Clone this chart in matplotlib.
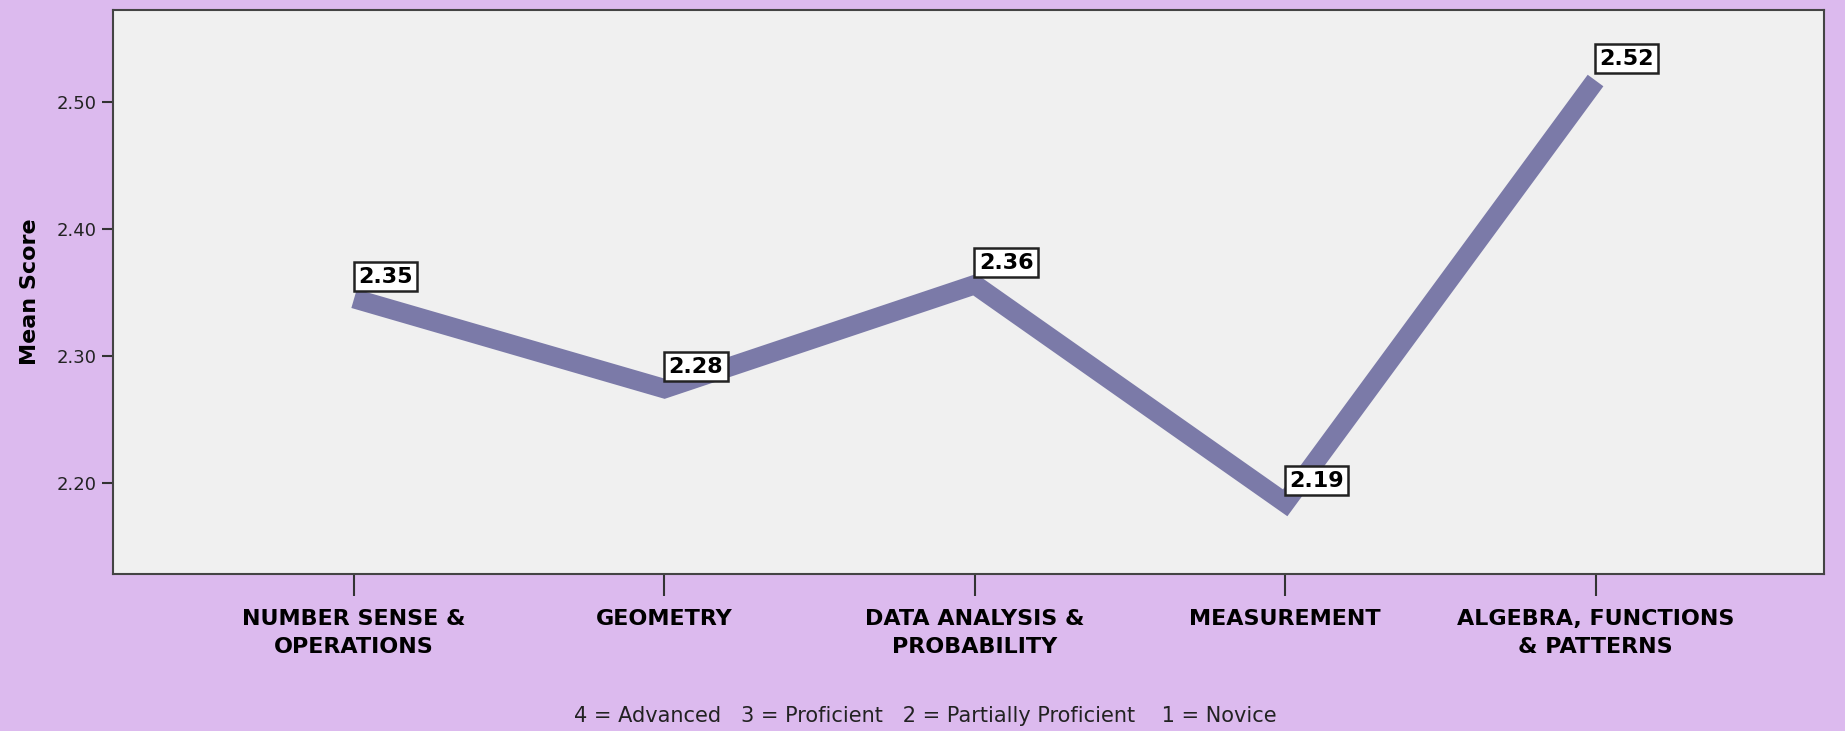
import matplotlib
matplotlib.use('Agg')
import matplotlib.pyplot as plt

# Data
strands = ['NUMBER SENSE &\nOPERATIONS', 'GEOMETRY', 'DATA ANALYSIS &\nPROBABILITY',
           'MEASUREMENT', 'ALGEBRA, FUNCTIONS\n& PATTERNS']
mean_scores = [2.345, 2.274, 2.356, 2.184, 2.517]
score_labels = ['2.35', '2.28', '2.36', '2.19', '2.52']
y_ticks = [2.20, 2.30, 2.40, 2.50]
footer = '4 = Advanced   3 = Proficient   2 = Partially Proficient    1 = Novice'

bg = '#dcbaee'
line_color = '#7b7aa8'
condensed = ['DejaVu Sans Condensed', 'DejaVu Sans']

fig = plt.figure(figsize=(18.45, 7.31), dpi=100, facecolor=bg)
ax = fig.add_axes([0.0612, 0.215, 0.9274, 0.772])
ax.set_facecolor('#f0f0f0')

x = list(range(len(strands)))
ax.plot(x, mean_scores, color=line_color, linewidth=14, solid_capstyle='butt',
        solid_joinstyle='miter')

# value boxes sit just above each point
for xi, yi, lab in zip(x, mean_scores, score_labels):
    ax.annotate(lab, (xi, yi), xytext=(4, 12), textcoords='offset pixels',
                ha='left', va='bottom', fontsize=16, fontweight='heavy', color='black',
                family=condensed,
                bbox=dict(boxstyle='square,pad=0.2', facecolor='white',
                          edgecolor='#222222', linewidth=1.8))

ax.set_xlim(-0.777, 4.736)
ax.set_ylim(2.128, 2.573)
ax.set_xticks(x)
ax.set_xticklabels(strands, fontsize=16, fontweight='heavy',
                   family=condensed, linespacing=1.5)
ax.set_yticks(y_ticks)
ax.set_yticklabels([f'{v:.2f}' for v in y_ticks], fontsize=13, color='#222222')
ax.tick_params(axis='x', length=16, width=1.5, pad=9, color='#333333')
ax.tick_params(axis='y', length=8, width=1.5, pad=4, color='#333333')
for s in ax.spines.values():
    s.set_color('#444444')
    s.set_linewidth(1.5)

ax.set_ylabel('Mean Score', fontsize=16, fontweight='bold', labelpad=12)

fig.text(0.5016, 0.0205, footer, ha='center', va='center', fontsize=15,
         family=condensed, color='#222222')

fig.savefig('out.png', dpi=100, facecolor=bg)
